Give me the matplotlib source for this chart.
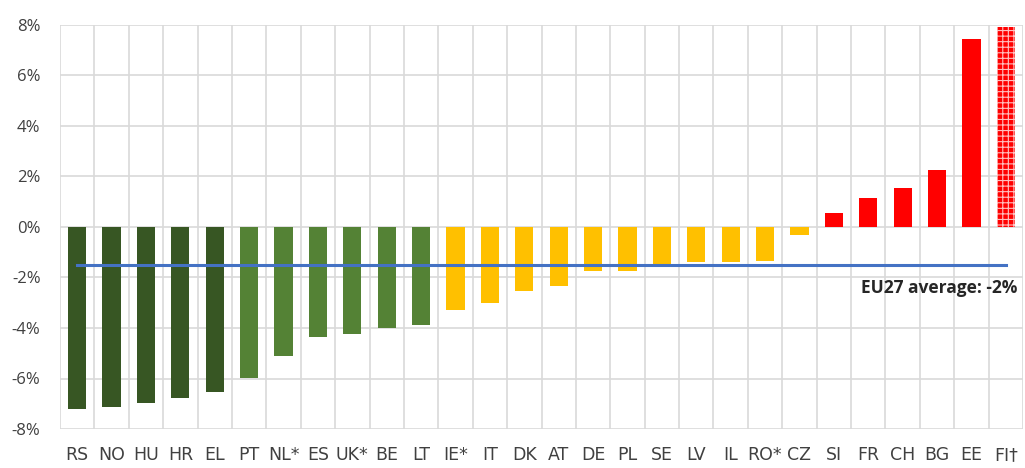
import matplotlib
matplotlib.use("Agg")
import matplotlib.pyplot as plt
from matplotlib.ticker import FuncFormatter, FixedLocator

countries = ["RS", "NO", "HU", "HR", "EL", "PT", "NL*", "ES", "UK*", "BE", "LT", "IE*", "IT",
             "DK", "AT", "DE", "PL", "SE", "LV", "IL", "RO*", "CZ", "SI", "FR", "CH", "BG", "EE", "FI\u2020"]
values = [-7.21, -7.14, -6.97, -6.79, -6.55, -5.97, -5.12, -4.36, -4.25, -4.01, -3.89, -3.29, -3.00,
          -2.52, -2.35, -1.76, -1.76, -1.53, -1.40, -1.40, -1.35, -0.33, 0.55, 1.15, 1.56, 2.27, 7.45, 7.92]
groups = ["dark"] * 5 + ["green"] * 6 + ["yellow"] * 11 + ["red"] * 6
eu27_average = -1.52
avg_label = "EU27 average: -2%"
yticks = [-8, -6, -4, -2, 0, 2, 4, 6, 8]

group_colors = {"dark": "#375623", "green": "#548235", "yellow": "#FFC000", "red": "#FF0000"}

plt.rcParams['hatch.linewidth'] = 0.8
fig = plt.figure(figsize=(10.25, 4.68), dpi=100)
ax = fig.add_axes([60 / 1025, 1 - 429 / 468, (1023 - 60) / 1025, (429 - 25) / 468])

x = list(range(len(countries)))
for i, (v, g) in enumerate(zip(values, groups)):
    if i == len(values) - 1:
        ax.bar(i, v, width=0.53, color="#FF0000", edgecolor="#FFC0C0", hatch="+++", linewidth=0, zorder=3)
    else:
        ax.bar(i, v, width=0.53, color=group_colors[g], linewidth=0, zorder=3)

ax.plot([x[0], x[-1]], [eu27_average, eu27_average], color="#4472C4", lw=2.2, zorder=4)
ax.text(27.35, eu27_average - 0.55, avg_label, ha="right", va="top", fontsize=12.5,
        fontweight="bold", color="#262626", family=["Open Sans", "DejaVu Sans"], zorder=5)

ax.set_xlim(-0.5, len(countries) - 0.5)
ax.set_ylim(-8, 8)
ax.set_yticks(yticks)
ax.yaxis.set_major_formatter(FuncFormatter(lambda v, p: f"{int(v)}%"))
ax.set_xticks(x)
ax.set_xticklabels(countries, family=["Liberation Sans Narrow", "DejaVu Sans"], fontsize=12.5, color="#404040")
ax.xaxis.set_minor_locator(FixedLocator([i - 0.5 for i in range(len(countries) + 1)]))
for lab in ax.get_yticklabels():
    lab.set_family(["Open Sans", "DejaVu Sans"])
    lab.set_fontsize(12)
    lab.set_color("#404040")
ax.tick_params(axis="x", which="both", length=0, pad=12)
ax.tick_params(axis="y", length=0, pad=14)
ax.grid(axis="y", which="major", color="#D9D9D9", lw=1.2, zorder=0)
ax.grid(axis="x", which="minor", color="#D9D9D9", lw=1.2, zorder=0)
ax.grid(axis="x", which="major", visible=False)
for s in ax.spines.values():
    s.set_visible(False)

fig.savefig("out.png", dpi=100)
